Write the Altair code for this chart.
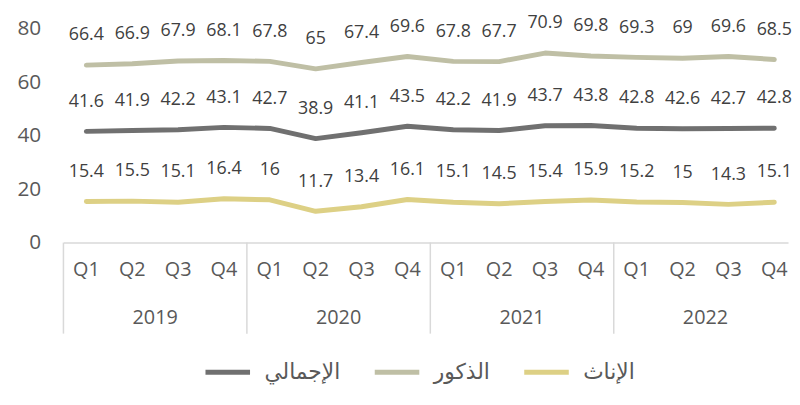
import altair as alt
import pandas as pd

years = ["2019", "2020", "2021", "2022"]
quarters = ["Q1", "Q2", "Q3", "Q4"]
series_names = ["الإجمالي", "الذكور", "الإناث"]
total = [41.6, 41.9, 42.2, 43.1, 42.7, 38.9, 41.1, 43.5, 42.2, 41.9, 43.7, 43.8, 42.8, 42.6, 42.7, 42.8]
males = [66.4, 66.9, 67.9, 68.1, 67.8, 65, 67.4, 69.6, 67.8, 67.7, 70.9, 69.8, 69.3, 69, 69.6, 68.5]
females = [15.4, 15.5, 15.1, 16.4, 16, 11.7, 13.4, 16.1, 15.1, 14.5, 15.4, 15.9, 15.2, 15, 14.3, 15.1]
colors = ["#707070", "#BFBFA5", "#DDD085"]

rows = []
for name, vals in zip(series_names, [total, males, females]):
    for i, v in enumerate(vals):
        rows.append({"pos": i + 0.5, "series": name, "value": v,
                     "label": f"{v:g}"})
df = pd.DataFrame(rows)

qdf = pd.DataFrame({"pos": [i + 0.5 for i in range(16)],
                    "q": [quarters[i % 4] for i in range(16)]})
ydf = pd.DataFrame({"pos": [2 + 4 * i for i in range(4)], "year": years})
sdf = pd.DataFrame({"pos": [0, 4, 8, 12]})

FONT = "Open Sans, DejaVu Sans"

xscale = alt.Scale(domain=[0, 15.8], nice=False, zero=False)
yscale = alt.Scale(domain=[0, 80], nice=False)

x = alt.X("pos:Q", scale=xscale,
          axis=alt.Axis(labels=False, ticks=False, grid=False, title=None,
                        domainColor="#D9D9D9", domainWidth=1.5))
y = alt.Y("value:Q", scale=yscale,
          axis=alt.Axis(values=[0, 20, 40, 60, 80], grid=False, ticks=False, tickSize=0,
                        domain=False, title=None, labelFontSize=21,
                        labelColor="#595959", labelPadding=23, labelFont=FONT))

lines = alt.Chart(df).mark_line(strokeWidth=5, strokeCap="round", strokeJoin="round").encode(
    x=x, y=y,
    color=alt.Color("series:N",
                    scale=alt.Scale(domain=series_names, range=colors),
                    sort=series_names,
                    legend=alt.Legend(title=None, orient="none", direction="horizontal",
                                      legendX=141, legendY=322,
                                      symbolType="stroke", symbolSize=2025,
                                      symbolStrokeWidth=5, labelFontSize=22,
                                      labelColor="#595959", labelFont=FONT,
                                      labelOffset=12, columnPadding=24)),
)

labels = alt.Chart(df).mark_text(dy=-30, fontSize=18, color="#404040", font=FONT).encode(
    x=alt.X("pos:Q", scale=xscale), y=alt.Y("value:Q", scale=yscale), text="label:N"
)

seps = alt.Chart(sdf).mark_rule(color="#D9D9D9", strokeWidth=1.5).encode(
    x=alt.X("pos:Q", scale=xscale), y=alt.value(216), y2=alt.value(308)
)

qtext = alt.Chart(qdf).mark_text(fontSize=20, color="#595959", font=FONT).encode(
    x=alt.X("pos:Q", scale=xscale), y=alt.value(244), text="q:N"
)

ytext = alt.Chart(ydf).mark_text(fontSize=20, color="#595959", font=FONT).encode(
    x=alt.X("pos:Q", scale=xscale), y=alt.value(292), text="year:N"
)

chart = alt.layer(seps, lines, labels, qtext, ytext).properties(
    width=732, height=216,
    autosize=alt.AutoSizeParams(type="none"),
    padding={"left": 56, "top": 19, "right": 4, "bottom": 150},
).configure_view(stroke=None)

chart.save("out.html", embed_options={"renderer": "svg", "actions": False})
